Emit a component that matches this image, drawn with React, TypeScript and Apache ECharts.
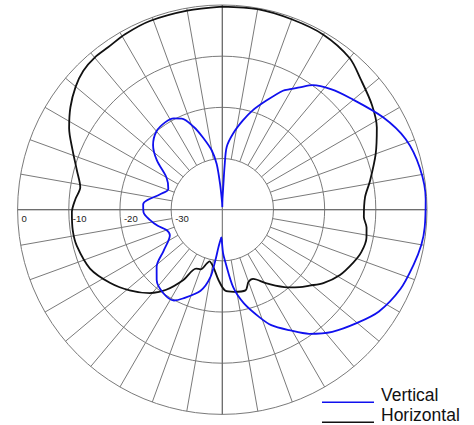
import React, { useEffect, useRef } from "react";
import * as echarts from "echarts";

// Angles: degrees clockwise from top. Values: dB (relative).
const verticalAngles = [
  0, 1, 2.5, 3, 4, 8, 13, 17, 22, 27, 29.3, 32.3, 36, 42, 49, 60, 69, 78, 87,
  95, 100, 106, 114, 123, 130, 138, 145, 151, 157, 161, 167, 172, 177, 179,
  180.5, 182, 184, 186, 187.5, 190, 195, 204, 208, 215, 223, 229, 235, 244, 250,
  256, 262, 268, 274, 277, 284, 291, 300, 307, 313, 320, 327, 332, 336, 341,
  345, 350, 353, 355, 358, 360,
];
const verticalDb = [
  -39.5, -38, -35, -31.5, -27.7, -25, -22.1, -19.7, -17, -13.9, -13.0, -11.7,
  -9.9, -8.3, -6.8, -3.8, -1.6, -0.55, -0.2, -0.3, -0.5, -1.1, -1.9, -3.5,
  -5.6, -7.9, -10.4, -13.1, -15.5, -17.8, -21.2, -24.7, -30, -31.5, -33.5,
  -34.6, -33.8, -32.5, -30.5, -26.6, -23.6, -21, -19.9, -20, -21.2, -23, -26,
  -28.6, -28.4, -27, -25.7, -24.6, -24.5, -25.1, -27.5, -28.7, -27.4, -24,
  -21.5, -20, -19.6, -19.8, -20.5, -22.9, -25.4, -28.3, -31, -34.9, -38.5,
  -39.5,
];

const horizontalAngles = [
  0, 10, 20, 30, 40, 47, 55, 62, 70, 79, 85, 93, 97, 101, 107, 112, 119, 126,
  131, 135, 140, 149, 156, 160, 164, 172, 178, 183, 189, 194, 196, 200, 204,
  209, 215, 221, 229, 237, 246, 256, 262, 269, 274, 279, 285, 292, 298, 304,
  310, 315, 320, 325, 331, 339, 350, 360,
];
const horizontalDb = [
  -0.3, -0.2, -0.4, -0.5, -1.3, -2.9, -4.3, -5.8, -8.1, -10.6, -12.0, -12.3,
  -11.6, -11.3, -11.6, -12.4, -13.7, -15.6, -17.4, -18.6, -20.2, -23.2, -25.2,
  -25.0, -23.6, -23.8, -24.2, -26.2, -28.7, -29.6, -29.1, -27.6, -27.4, -24.3,
  -20.9, -18.4, -16.0, -13.8, -11.7, -10.7, -10.5, -10.6, -11.2, -11.9, -10.6,
  -8.4, -6.1, -4.2, -2.6, -1.6, -1.2, -1.2, -0.8, -0.5, -0.5, -0.3,
];

const radialTicks = ["0", "-10", "-20", "-30"];
const seriesNames = ["Vertical", "Horizontal"];
const seriesColors = ["#1010ee", "#111111"];

const CX = 222.3;
const CY = 209.7;
const R = 204.7;
const GRID = "#7a7a7a";

export default function App() {
  const ref = useRef<HTMLDivElement>(null);
  useEffect(() => {
    if (!ref.current) return;
    const chart = echarts.init(ref.current, null, { renderer: "svg" });
    const vData = verticalAngles.map((a, i) => [verticalDb[i], a]);
    const hData = horizontalAngles.map((a, i) => [horizontalDb[i], a]);
    const hiddenAngle = {
      type: "value" as const,
      min: 0,
      max: 360,
      axisLine: { show: false },
      axisTick: { show: false },
      axisLabel: { show: false },
    };
    chart.setOption({
      animation: false,
      backgroundColor: "#ffffff",
      polar: [
        { center: [CX, CY], radius: R },
        { center: [CX, CY], radius: [R / 4, R] },
        { center: [CX, CY], radius: R },
      ],
      angleAxis: [
        {
          ...hiddenAngle,
          polarIndex: 0,
          startAngle: 90,
          clockwise: true,
          splitLine: { show: false },
        },
        {
          ...hiddenAngle,
          polarIndex: 1,
          startAngle: 90,
          interval: 10,
          splitLine: { show: true, lineStyle: { color: GRID, width: 1 } },
        },
        {
          ...hiddenAngle,
          polarIndex: 2,
          startAngle: 180,
          interval: 90,
          splitLine: { show: true, lineStyle: { color: "#666", width: 1 } },
        },
      ],
      radiusAxis: [
        {
          polarIndex: 0,
          type: "value",
          min: -40,
          max: 0,
          interval: 10,
          axisLine: { show: false },
          axisTick: { show: false },
          axisLabel: { show: false },
          splitLine: { show: true, lineStyle: { color: GRID, width: 1 } },
        },
        {
          polarIndex: 1,
          type: "value",
          min: -30,
          max: 0,
          show: false,
        },
        {
          polarIndex: 2,
          type: "value",
          min: -40,
          max: 0,
          interval: 10,
          axisLine: { show: false },
          axisTick: { show: false },
          splitLine: { show: false },
          axisLabel: {
            show: true,
            formatter: (v: number) => (radialTicks.includes(String(v)) ? String(v) : ""),
            fontFamily: "Liberation Sans, Arial, sans-serif",
            fontSize: 9.5,
            color: "#222",
            align: "left",
            verticalAlign: "top",
            margin: 4,
            padding: [0, 0, 0, 4],
          },
        },
      ],
      legend: {
        orient: "vertical",
        left: 322,
        top: 386,
        height: 80,
        padding: 0,
        itemWidth: 52,
        itemHeight: 16.5,
        itemGap: 2,
        icon: "path://M0,0 L0.01,0 L0.01,0.01 Z M0,14.5 L52,14.5 L52,16 L0,16 Z",
        textStyle: {
          fontFamily: "Liberation Sans, Arial, sans-serif",
          fontSize: 17.5,
          color: "#111",
          padding: [0, 0, 0, 2],
        },
        data: seriesNames,
      },
      series: [
        {
          name: seriesNames[0],
          type: "line",
          coordinateSystem: "polar",
          polarIndex: 0,
          data: vData,
          showSymbol: false,
          smooth: 0.3,
          color: seriesColors[0],
          lineStyle: { color: seriesColors[0], width: 1.8 },
          z: 5,
        },
        {
          name: seriesNames[1],
          type: "line",
          coordinateSystem: "polar",
          polarIndex: 0,
          data: hData,
          showSymbol: false,
          smooth: 0.3,
          color: seriesColors[1],
          lineStyle: { color: seriesColors[1], width: 1.8 },
          z: 4,
        },
      ],
    });
    return () => chart.dispose();
  }, []);
  return (
    <div
      ref={ref}
      style={{ position: "fixed", left: 0, top: 0, width: 474, height: 425 }}
    />
  );
}
